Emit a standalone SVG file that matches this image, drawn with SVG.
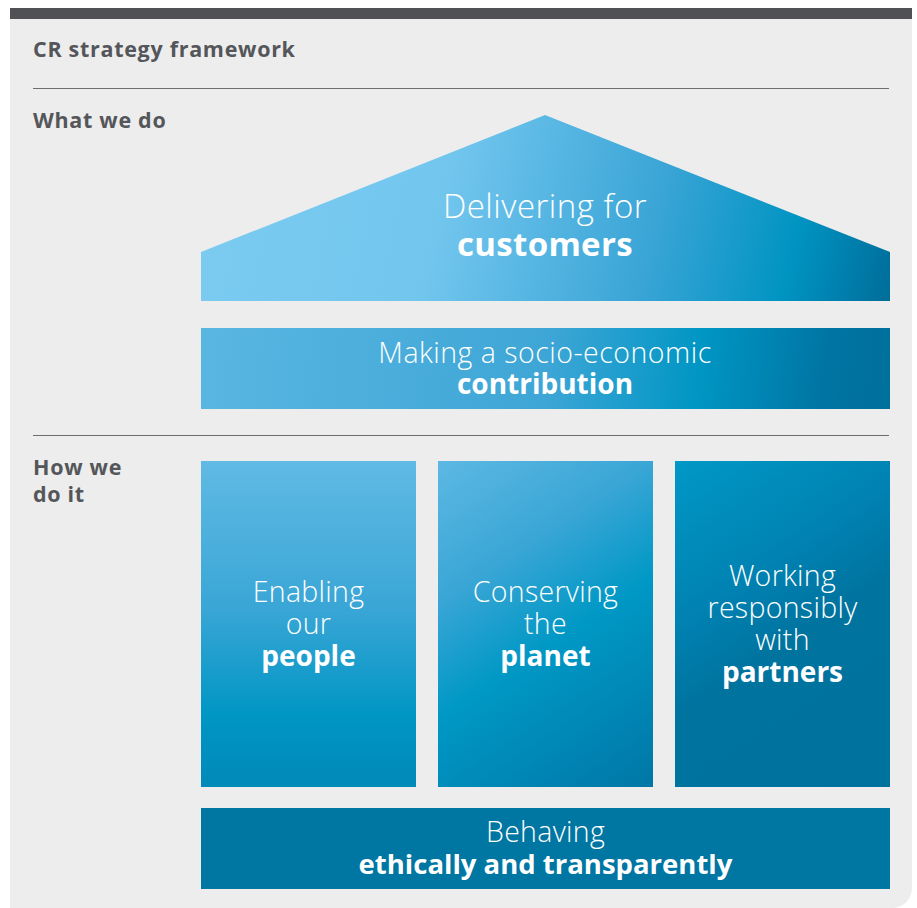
<svg xmlns="http://www.w3.org/2000/svg" width="917" height="908" viewBox="0 0 917 908">
  <style>
    .head { font-family: "Open Sans", Lato, "Liberation Sans", sans-serif; font-weight: 700; fill: #54565a; font-size: 21.5px; letter-spacing: 0.7px; }
    .lbl { font-family: "Open Sans", Lato, "Liberation Sans", sans-serif; fill: #ffffff; text-anchor: middle; }
    .lt { font-weight: 300; font-size: 28.5px; letter-spacing: 0.3px; }
    .bd { font-weight: 700; font-size: 28px; }
    .rule { stroke: #6d6e71; stroke-width: 1.2; }
  </style>
  <defs>
    <linearGradient id="gHouse" x1="201" y1="140" x2="890" y2="300" gradientUnits="userSpaceOnUse">
      <stop offset="0" stop-color="#7ccbf1"/>
      <stop offset="0.35" stop-color="#72c6ee"/>
      <stop offset="0.65" stop-color="#3aa5d6"/>
      <stop offset="0.85" stop-color="#0094c2"/>
      <stop offset="1" stop-color="#006d9a"/>
    </linearGradient>
    <linearGradient id="gContrib" x1="201" y1="330" x2="890" y2="408" gradientUnits="userSpaceOnUse">
      <stop offset="0" stop-color="#5ab6e1"/>
      <stop offset="0.5" stop-color="#3ea6d6"/>
      <stop offset="0.72" stop-color="#0096c4"/>
      <stop offset="0.9" stop-color="#0075a3"/>
      <stop offset="1" stop-color="#006f9c"/>
    </linearGradient>
    <linearGradient id="gPeople" x1="0" y1="461" x2="0" y2="787" gradientUnits="userSpaceOnUse">
      <stop offset="0" stop-color="#60bae4"/>
      <stop offset="0.45" stop-color="#3aa6d6"/>
      <stop offset="0.78" stop-color="#0096c4"/>
      <stop offset="1" stop-color="#0089b9"/>
    </linearGradient>
    <linearGradient id="gPlanet" x1="438" y1="461" x2="653" y2="787" gradientUnits="userSpaceOnUse">
      <stop offset="0" stop-color="#5db8e3"/>
      <stop offset="0.3" stop-color="#3aa6d6"/>
      <stop offset="0.55" stop-color="#0098c5"/>
      <stop offset="1" stop-color="#0077a6"/>
    </linearGradient>
    <linearGradient id="gPartners" x1="675" y1="461" x2="890" y2="787" gradientUnits="userSpaceOnUse">
      <stop offset="0" stop-color="#0098c6"/>
      <stop offset="0.35" stop-color="#0082b2"/>
      <stop offset="0.55" stop-color="#00739f"/>
      <stop offset="1" stop-color="#00729e"/>
    </linearGradient>
  </defs>

  <!-- panel with dark header strip -->
  <path d="M10 8 H912 V888 A20 20 0 0 1 892 908 H10 Z" fill="#ededed"/>
  <rect x="10" y="8" width="902" height="11" fill="#505155"/>

  <!-- section headings and rules -->
  <text class="head" x="33" y="57">CR strategy framework</text>
  <line class="rule" x1="33" y1="88.5" x2="889" y2="88.5"/>
  <text class="head" x="33" y="128">What we do</text>
  <line class="rule" x1="33" y1="435.5" x2="889" y2="435.5"/>
  <text class="head" x="33" y="475"><tspan x="33">How we</tspan><tspan x="33" dy="27">do it</tspan></text>

  <g id="customers">
    <polygon points="545,115 890,252 890,301 201,301 201,252" fill="url(#gHouse)"/>
    <text class="lbl" x="545" y="218"><tspan class="lt" x="545" style="font-size:33px;letter-spacing:0.5px">Delivering for</tspan><tspan class="bd" x="545" dy="38" style="font-size:33px;letter-spacing:0.3px">customers</tspan></text>
  </g>

  <g id="contribution">
    <rect x="201" y="328" width="689" height="81" fill="url(#gContrib)"/>
    <text class="lbl" x="545" y="363"><tspan class="lt" x="545" style="letter-spacing:0.5px">Making a socio-economic</tspan><tspan class="bd" x="545" dy="31">contribution</tspan></text>
  </g>

  <g id="people">
    <rect x="201" y="461" width="215" height="326" fill="url(#gPeople)"/>
    <text class="lbl" x="308.5" y="602"><tspan class="lt" x="308.5">Enabling</tspan><tspan class="lt" x="308.5" dy="32">our</tspan><tspan class="bd" x="308.5" dy="32">people</tspan></text>
  </g>

  <g id="planet">
    <rect x="438" y="461" width="215" height="326" fill="url(#gPlanet)"/>
    <text class="lbl" x="545.5" y="602"><tspan class="lt" x="545.5">Conserving</tspan><tspan class="lt" x="545.5" dy="32">the</tspan><tspan class="bd" x="545.5" dy="32">planet</tspan></text>
  </g>

  <g id="partners">
    <rect x="675" y="461" width="215" height="326" fill="url(#gPartners)"/>
    <text class="lbl" x="782.5" y="586"><tspan class="lt" x="782.5">Working</tspan><tspan class="lt" x="782.5" dy="32">responsibly</tspan><tspan class="lt" x="782.5" dy="32">with</tspan><tspan class="bd" x="782.5" dy="32">partners</tspan></text>
  </g>

  <g id="ethics">
    <rect x="201" y="808" width="689" height="81" fill="#0076a2"/>
    <text class="lbl" x="545.5" y="842"><tspan class="lt" x="545.5">Behaving</tspan><tspan class="bd" x="545.5" dy="32" style="font-size:27.5px">ethically and transparently</tspan></text>
  </g>

  <g id="connectors"/>
</svg>
